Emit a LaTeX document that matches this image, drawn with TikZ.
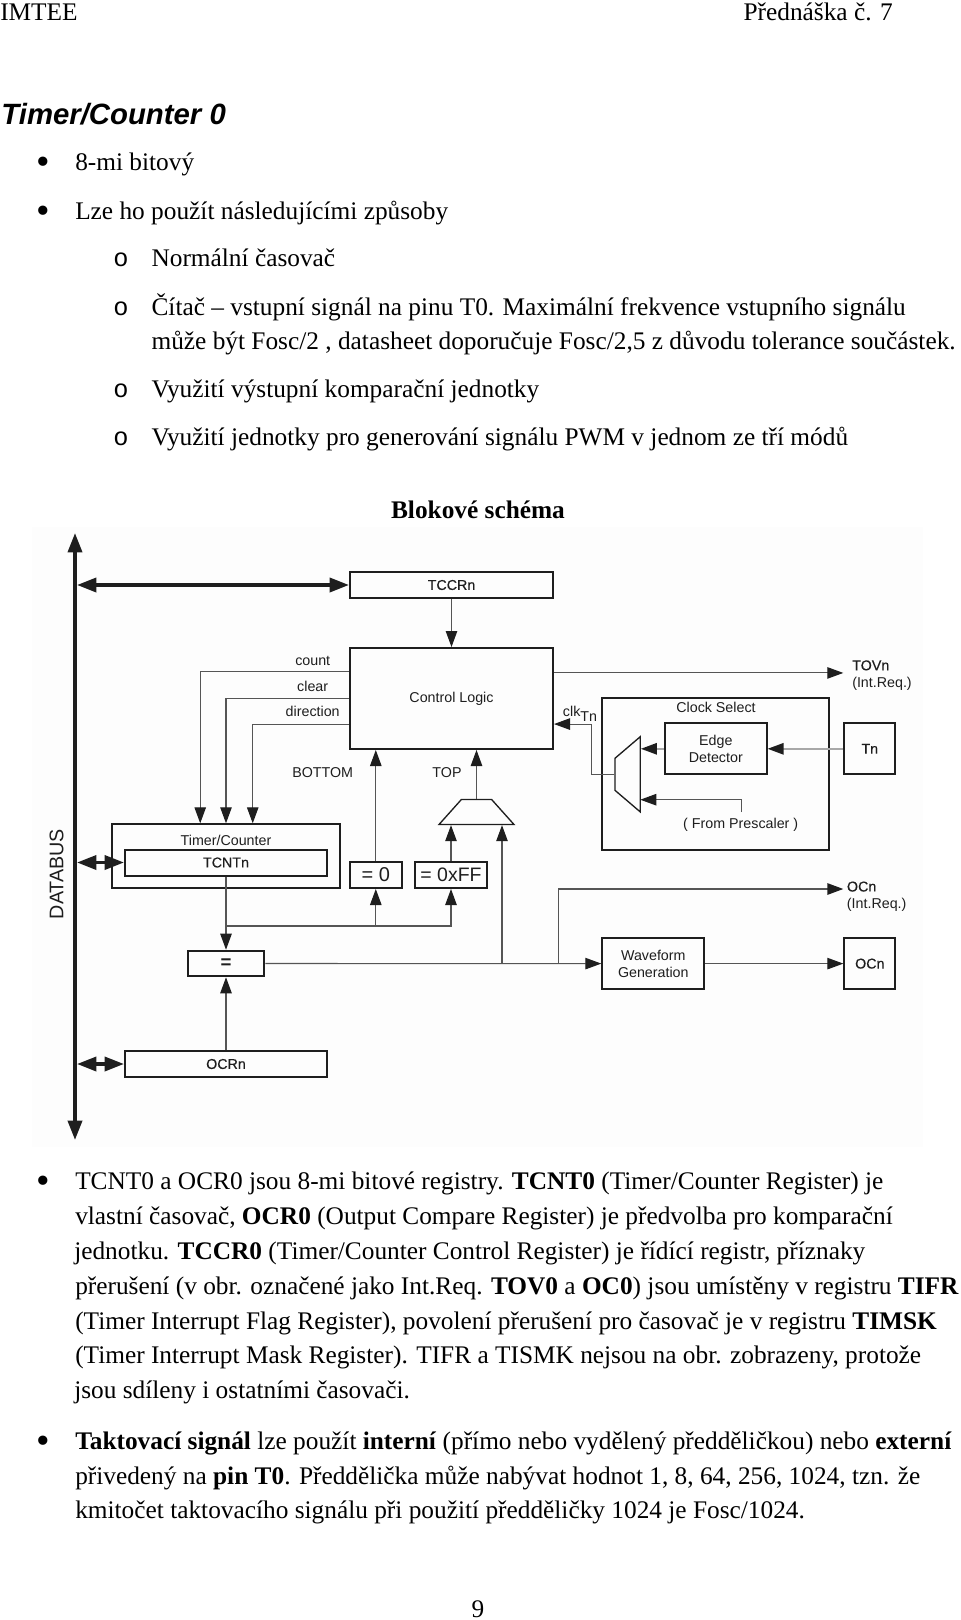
\documentclass[tikz,border=0pt]{standalone}
\usepackage{fontspec}
\setmainfont{Liberation Serif}
\setsansfont{Liberation Sans}
\setmonofont{Liberation Mono}
\newfontfamily\heavysans[FakeBold=0.3]{Liberation Sans}
\usepackage{xcolor}
\usetikzlibrary{positioning, arrows.meta, calc, shapes.geometric}
\definecolor{inkc}{HTML}{1E1E1E}
\definecolor{wirec}{HTML}{555555}
\definecolor{palewire}{HTML}{A8A8A8}
\definecolor{sheetc}{HTML}{FDFDFD}
\newcommand{\bodyfont}{\fontsize{19pt}{26pt}\selectfont}
\newcommand{\partfont}{\fontsize{10.7pt}{12.8pt}\selectfont\sffamily}
\newcommand{\regfont}{\fontsize{10.7pt}{12.8pt}\selectfont\heavysans}

\begin{document}
\begin{tikzpicture}[
    x=0.75pt, y=-0.75pt,
    sized/.style 2 args={minimum width=#1*0.75pt, minimum height=#2*0.75pt},
    partbox/.style={
        rectangle,
        draw=inkc,
        line width=1.5pt,
        inner sep=0pt,
        align=center,
        text=inkc,
        font=\partfont
    },
    partlabel/.style={inner sep=0pt, align=left, text=inkc, font=\partfont},
    bodyline/.style={anchor=base west, inner sep=0pt, text=black, font=\bodyfont},
    marker/.style={anchor=base, inner sep=0pt, text=black, font=\bodyfont},
    bulletmark/.style={anchor=base, inner sep=0pt, text=black, yshift=-3.4pt, font=\fontsize{29pt}{30pt}\selectfont},
    muxshape/.style={
        trapezium,
        trapezium stretches=true,
        draw=inkc,
        line width=1pt,
        inner sep=2pt
    },
    sig/.style={->, >={Triangle[length=12pt,width=8.6pt,color=inkc]}, draw=wirec, line width=0.8pt},
    pale/.style={sig, draw=palewire, line width=1.2pt},
    bus/.style={<->, >={Triangle[length=14.5pt,width=10.5pt,color=inkc]}, draw=inkc, line width=2.6pt}
]
    \useasboundingbox (0,0) rectangle (960,1620);

    % Page head
    \node[bodyline] (head) at (0,20.7) {IMTEE};
    \node[bodyline, anchor=base east] (lecture) at (893,20.7) {Přednáška č. 7};
    \node[bodyline, font=\fontsize{22pt}{26pt}\selectfont\sffamily\bfseries\itshape] (title) at (1.2,124.7) {Timer/Counter 0};

    % First list
    \node[bulletmark] (b1) at (43.3,170) {•};
    \node[bodyline] (t1) at (75,170) {8-mi bitový};
    \node[bulletmark] (b2) at (43.3,219.3) {•};
    \node[bodyline] (t2) at (75,219.3) {Lze ho použít následujícími způsoby};
    \node[marker] (o1) at (121,266.7) {\texttt{o}};
    \node[bodyline] (s1) at (151.3,266.7) {Normální časovač};
    \node[marker] (o2) at (121,315) {\texttt{o}};
    \node[bodyline] (s2a) at (151.3,315) {Čítač – vstupní signál na pinu T0. Maximální frekvence vstupního signálu};
    \node[bodyline] (s2b) at (151.3,349.3) {může být Fosc/2 , datasheet doporučuje Fosc/2,5 z důvodu tolerance součástek.};
    \node[marker] (o3) at (121,397.3) {\texttt{o}};
    \node[bodyline] (s3) at (151.3,397.3) {Využití výstupní komparační jednotky};
    \node[marker] (o4) at (121,445) {\texttt{o}};
    \node[bodyline] (s4) at (151.3,445) {Využití jednotky pro generování signálu PWM v jednom ze tří módů};
    \node[bodyline, anchor=base, font=\bodyfont\bfseries] (caption) at (478,518.3) {Blokové schéma};

    % Block diagram
    \fill[sheetc] (32,527) rectangle (923,1147);
    \node[partbox, sized={203}{26}, font=\regfont] (tccr) at (451.5,585) {TCCRn};
    \node[partbox, sized={203}{101}] (ctrl) at (451.5,698.5) {Control Logic};
    \node[partbox, sized={228}{64}] (timer) at (226,856.3) {};
    \node[partlabel] (timerlbl) at (226,840.3) {Timer/Counter};
    \node[partbox, sized={202}{26}, font=\regfont] (tcnt) at (226,862.5) {TCNTn};
    \node[partbox, sized={51.7}{26}, font=\fontsize{15pt}{16pt}\selectfont\sffamily] (zero) at (375.8,875) {= 0};
    \node[partbox, sized={72}{26}, font=\fontsize{14.6pt}{16pt}\selectfont\sffamily] (ff) at (451,875) {= 0xFF};
    \node[partbox, sized={76.6}{25.6}, font=\fontsize{14pt}{16pt}\selectfont\sffamily\bfseries] (cmp) at (226,963.5) {\raisebox{-1.5pt}{=}};
    \node[partbox, sized={202}{26}, font=\regfont] (ocr) at (226,1064) {OCRn};
    \node[partbox, sized={102}{51}] (wave) at (653.3,963.6) {Waveform\\Generation};
    \node[partbox, sized={51}{51}, font=\regfont] (ocn) at (869.8,963.6) {OCn};
    \node[partbox, sized={227}{151.4}] (clksel) at (715.8,774) {};
    \node[partlabel] (clksellbl) at (716,707.7) {Clock Select};
    \node[partbox, sized={101.7}{51}] (edge) at (715.8,748.8) {Edge\\Detector};
    \node[partbox, sized={51}{51}, font=\regfont] (tn) at (869.8,748.8) {Tn};
    \node[muxshape, sized={75}{25}, trapezium left angle=53.5, trapezium right angle=53.5] (topmux) at (476.5,812) {};
    \node[muxshape, sized={75.3}{25.3}, trapezium left angle=56, trapezium right angle=56, rotate=90] (clkmux) at (627.65,774.3) {};

    % Labels
    \node[partlabel] (countlbl) at (312.7,661) {count};
    \node[partlabel] (clearlbl) at (312.7,686) {clear};
    \node[partlabel] (dirlbl) at (312.7,711) {direction};
    \node[partlabel] (bottomlbl) at (322.7,773) {BOTTOM};
    \node[partlabel] (toplbl) at (447,773) {TOP};
    \node[partlabel, anchor=base west] (clklbl) at (562.7,716) {clk\raisebox{-4pt}{Tn}};
    \node[partlabel] (preslbl) at (740.7,824.3) {( From Prescaler )};
    \node[partlabel, anchor=west] (tovlbl) at (852,675.3) {{\heavysans TOVn}\\(Int.Req.)};
    \node[partlabel, anchor=west] (oclbl) at (846.7,896.5) {{\heavysans OCn}\\(Int.Req.)};
    \node[partlabel, rotate=90, font=\fontsize{14.8pt}{16pt}\selectfont\sffamily] (dblbl) at (56.7,874) {DATABUS};

    % Data bus
    \coordinate (dbtop) at (75,533);
    \coordinate (dbbot) at (75,1140);
    \coordinate (dbedge) at (77,585);
    \draw[bus] (dbtop) -- (dbbot);
    \draw[bus] (dbedge |- tccr.west) -- (tccr.west);
    \draw[bus] (dbedge |- tcnt.west) -- (tcnt.west);
    \draw[bus] (dbedge |- ocr.west) -- (ocr.west);

    % Control lines
    \draw[sig] (tccr) -- (ctrl);
    \draw[sig] (ctrl.165.9) -| (timer.128.3);
    \draw[sig] (ctrl.west) -| (timer.north);
    \draw[sig] (ctrl.194.1) -| (timer.51.7);
    \draw[sig] (zero.north) -- (zero.north |- ctrl.south);
    \draw[sig] (topmux.north) -- (topmux.north |- ctrl.south);
    \draw[sig] (ff.north) -- (ff.north |- topmux.south);

    % Counter value
    \coordinate (tcntfb) at (226,926);
    \draw[sig] (tcnt.south) -- (cmp.north);
    \draw[sig] (tcntfb) -| (ff.south);
    \draw[sig] (zero.south |- tcntfb) -- (zero.south);
    \draw[sig] (ocr) -- (cmp.south);

    % Compare output
    \coordinate (muxfb) at (502,963.5);
    \coordinate (ocfb) at (558.3,963.5);
    \coordinate (ocout) at (843.3,889);
    \coordinate (tovout) at (843.3,673.3);
    \draw[sig] (cmp.east) -- (wave.west);
    \draw[sig] (muxfb) -- (muxfb |- topmux.south);
    \draw[sig, line width=1.1pt] (ocfb) |- (ocout);
    \draw[sig] (wave.east) -- (ocn.west);
    \draw[sig] (ctrl.14.1) -- (ctrl.14.1 -| tovout);

    % Clock path
    \coordinate (clkbend) at (591.7,774.3);
    \coordinate (presc) at (741.7,812);
    \coordinate (prescin) at (640.3,799.7);
    \draw[pale] (tn.west) -- (edge.east);
    \draw[pale] (edge.west) -- (edge.west -| clkmux.south);
    \draw[sig] (presc) |- (prescin);
    \draw[sig] (clkmux.north) -- (clkbend) |- (ctrl.-14.1);

    % Text below the diagram
    \node[bulletmark] (b3) at (43.3,1189.3) {•};
    \node[bodyline] (p1) at (75,1189.3) {TCNT0 a OCR0 jsou 8-mi bitové registry. \textbf{TCNT0} (Timer/Counter Register) je};
    \node[bodyline] (p2) at (75,1224) {vlastní časovač, \textbf{OCR0} (Output Compare Register) je předvolba pro komparační};
    \node[bodyline] (p3) at (74,1259) {jednotku. \textbf{TCCR0} (Timer/Counter Control Register) je řídící registr, příznaky};
    \node[bodyline] (p4) at (75,1294) {přerušení (v obr. označené jako Int.Req. \textbf{TOV0} a \textbf{OC0}) jsou umístěny v registru \textbf{TIFR}};
    \node[bodyline] (p5) at (75,1329) {(Timer Interrupt Flag Register), povolení přerušení pro časovač je v registru \textbf{TIMSK}};
    \node[bodyline] (p6) at (75,1363.7) {(Timer Interrupt Mask Register). TIFR a TISMK nejsou na obr. zobrazeny, protože};
    \node[bodyline] (p7) at (74,1398.7) {jsou sdíleny i ostatními časovači.};
    \node[bulletmark] (b4) at (43.3,1449.3) {•};
    \node[bodyline] (q1) at (75,1449.3) {\textbf{Taktovací signál} lze použít \textbf{interní} (přímo nebo vydělený předděličkou) nebo \textbf{externí}};
    \node[bodyline] (q2) at (75,1484) {přivedený na \textbf{pin T0}. Předdělička může nabývat hodnot 1, 8, 64, 256, 1024, tzn. že};
    \node[bodyline] (q3) at (75,1518.7) {kmitočet taktovacího signálu při použití předděličky 1024 je Fosc/1024.};
    \node[marker] (pageno) at (478,1617) {9};
\end{tikzpicture}
\end{document}
